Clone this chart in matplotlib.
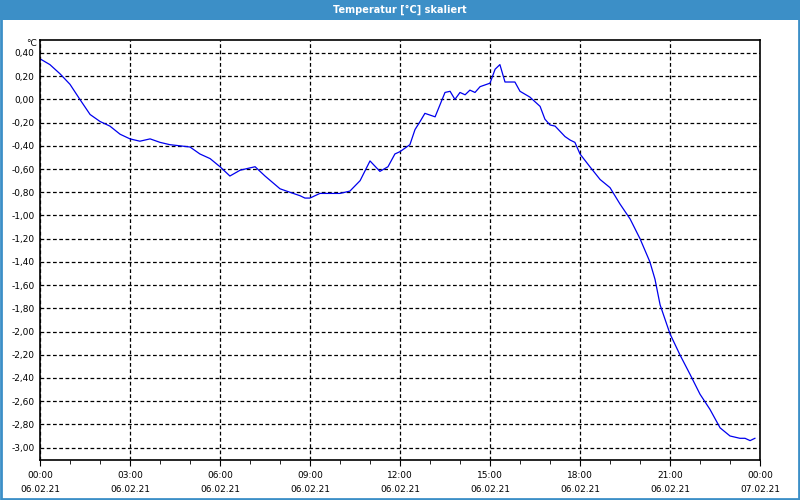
import matplotlib
matplotlib.use('Agg')
import matplotlib.pyplot as plt
from matplotlib.patches import Rectangle
from matplotlib.ticker import FuncFormatter, MultipleLocator

# hours since 06.02.21 00:00
hours = [0.0, 0.33, 0.67, 1.0, 1.33, 1.67, 2.0, 2.33, 2.67, 3.0, 3.33, 3.67, 4.0,
         4.33, 4.67, 5.0, 5.33, 5.67, 6.0, 6.33, 6.67, 7.0, 7.17, 7.5, 8.0, 8.33,
         8.67, 8.83, 9.0, 9.33, 9.67, 10.0, 10.33, 10.67, 11.0, 11.33, 11.6, 11.83,
         12.0, 12.33, 12.5, 12.67, 12.83, 13.17, 13.5, 13.67, 13.83, 14.0, 14.17,
         14.33, 14.5, 14.67, 15.0, 15.17, 15.33, 15.5, 15.83, 16.0, 16.33, 16.67,
         16.83, 17.0, 17.17, 17.5, 17.67, 17.83, 18.0, 18.33, 18.67, 19.0, 19.33,
         19.67, 20.0, 20.33, 20.5, 20.67, 21.0, 21.33, 21.67, 22.0, 22.33, 22.67,
         23.0, 23.33, 23.5, 23.67, 23.83]
temps = [0.35, 0.30, 0.22, 0.13, 0.00, -0.13, -0.19, -0.23, -0.30, -0.34, -0.36,
         -0.34, -0.37, -0.39, -0.40, -0.41, -0.47, -0.51, -0.58, -0.66, -0.61,
         -0.59, -0.58, -0.66, -0.77, -0.80, -0.83, -0.85, -0.85, -0.81, -0.81,
         -0.81, -0.79, -0.70, -0.53, -0.62, -0.58, -0.47, -0.45, -0.39, -0.26,
         -0.19, -0.12, -0.15, 0.06, 0.07, 0.00, 0.06, 0.04, 0.08, 0.06, 0.11,
         0.14, 0.26, 0.30, 0.15, 0.15, 0.07, 0.02, -0.06, -0.17, -0.22, -0.23,
         -0.32, -0.35, -0.37, -0.47, -0.58, -0.69, -0.76, -0.90, -1.03, -1.20,
         -1.40, -1.55, -1.77, -2.02, -2.20, -2.37, -2.54, -2.67, -2.83, -2.90,
         -2.92, -2.92, -2.94, -2.92]

x_ticks = [0, 3, 6, 9, 12, 15, 18, 21, 24]
x_times = ['00:00', '03:00', '06:00', '09:00', '12:00', '15:00', '18:00', '21:00', '00:00']
x_dates = ['06.02.21'] * 8 + ['07.02.21']

blue = '#3c8fc7'
font = ['DejaVu Sans']

fig = plt.figure(figsize=(8, 5), dpi=100)
fig.patch.set_facecolor('white')

# title bar and outer frame
fig.patches.append(Rectangle((0, 480 / 500), 1, 20 / 500, transform=fig.transFigure,
                             facecolor=blue, edgecolor='none', zorder=0))
fig.patches.append(Rectangle((0.001, 0.002), 0.998, 0.996, transform=fig.transFigure,
                             facecolor='none', edgecolor=blue, lw=2, zorder=0))
fig.text(0.5, 490 / 500, 'Temperatur [°C] skaliert', color='white', fontsize=7,
         fontweight='bold', ha='center', va='center', family=font)

ax = fig.add_axes([40 / 800, 40 / 500, 720 / 800, 420 / 500])
ax.plot(hours, temps, color='#0000ee', lw=0.9)

ax.set_xlim(0, 24)
ax.set_ylim(-3.107, 0.512)
ax.set_xticks(x_ticks)
ax.set_xticklabels([f'{t}\n{d}' for t, d in zip(x_times, x_dates)],
                   fontsize=6.5, family=font, linespacing=1.7)
ax.xaxis.set_minor_locator(MultipleLocator(1))
ax.yaxis.set_major_locator(MultipleLocator(0.2))
ax.yaxis.set_major_formatter(FuncFormatter(lambda v, p: f'{v:.2f}'.replace('.', ',').replace('-0,00', '0,00')))
for lbl in ax.get_yticklabels():
    lbl.set_family(font)
ax.tick_params(axis='y', labelsize=6.5, length=0, pad=4)
ax.tick_params(axis='x', which='major', length=4, pad=4, direction='out')
ax.tick_params(axis='x', which='minor', length=3, direction='out')

ax.grid(True, which='major', color='black', linestyle=(0, (3, 2)), lw=0.9)
for s in ax.spines.values():
    s.set_linewidth(1.2)

fig.text(37 / 800, 1 - 44 / 500, '°C', fontsize=6.5, ha='right', va='center', family=font)

fig.savefig('out.png', dpi=100)
